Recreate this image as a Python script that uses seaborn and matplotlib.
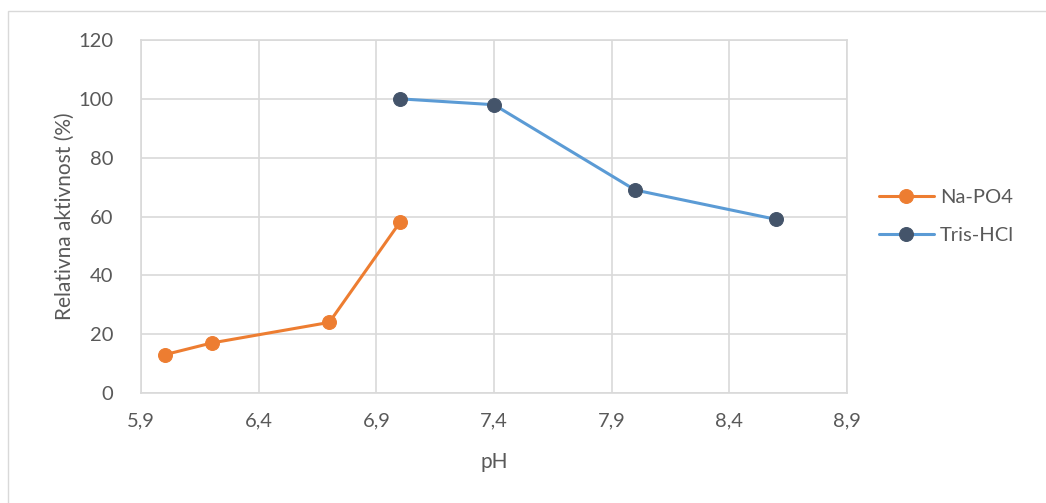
import numpy as np
import pandas as pd
import matplotlib
matplotlib.use("Agg")
import matplotlib.pyplot as plt
import seaborn as sns
from matplotlib.patches import Rectangle
from matplotlib.ticker import FuncFormatter

# podaci ocitani sa grafika
ph_na = [6.0, 6.2, 6.7, 7.0]
akt_na = [13, 17, 24, 58]
ph_tris = [7.0, 7.4, 8.0, 8.6]
akt_tris = [100, 98, 69, 59]
x_ticks = [5.9, 6.4, 6.9, 7.4, 7.9, 8.4, 8.9]
y_ticks = [0, 20, 40, 60, 80, 100, 120]

df_na = pd.DataFrame({"pH": ph_na, "akt": akt_na})
df_tris = pd.DataFrame({"pH": ph_tris, "akt": akt_tris})

sns.set_style("white")
plt.rcParams["font.family"] = ["Lato", "DejaVu Sans"]
txt = "#595959"

fig = plt.figure(figsize=(10.46, 5.03), dpi=100)
ax = fig.add_axes([141 / 1046, 1 - 393 / 503, (847 - 141) / 1046, (393 - 40) / 503])

# okvir oko cijele slike
fig.patches.append(Rectangle((8 / 1046, -0.01), 1.02, 1 - 11 / 503 + 0.01,
                             transform=fig.transFigure, fill=False,
                             edgecolor="#d9d9d9", linewidth=1))

sns.lineplot(data=df_na, x="pH", y="akt", ax=ax, color="#ED7D31", linewidth=2.2,
             marker="o", markersize=10, markerfacecolor="#ED7D31",
             markeredgecolor="#ED7D31", label="Na-PO4")
sns.lineplot(data=df_tris, x="pH", y="akt", ax=ax, color="#5B9BD5", linewidth=2.2,
             marker="o", markersize=10, markerfacecolor="#44546A",
             markeredgecolor="#44546A", label="Tris-HCl")

ax.set_xlim(5.9, 8.9)
ax.set_ylim(0, 120)
ax.set_xticks(x_ticks)
ax.set_yticks(y_ticks)
ax.xaxis.set_major_formatter(FuncFormatter(lambda v, p: f"{v:.1f}".replace(".", ",")))
ax.grid(True, color="#d9d9d9", linewidth=1.2)
ax.set_axisbelow(True)
for s in ax.spines.values():
    s.set_color("#d9d9d9")
    s.set_linewidth(1.2)
ax.tick_params(axis="both", length=0, labelsize=14.5, colors=txt)
ax.tick_params(axis="x", pad=14)
ax.tick_params(axis="y", pad=20)

ax.set_xlabel("pH", fontsize=15, color=txt, labelpad=16)
ax.set_ylabel("Relativna aktivnost (%)", fontsize=15, color=txt, labelpad=2)

leg = ax.legend(loc="center left", bbox_to_anchor=(1.02, 0.5), frameon=False,
                fontsize=14.5, handlelength=2.7, labelspacing=1.0, handletextpad=0.3)
for t in leg.get_texts():
    t.set_color(txt)

fig.savefig("out.png", dpi=100)
